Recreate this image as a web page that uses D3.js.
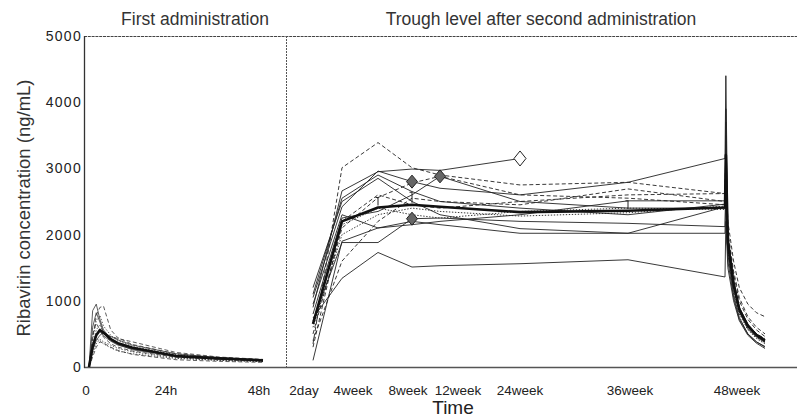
<!DOCTYPE html>
<html><head><meta charset="utf-8">
<script src="https://cdn.jsdelivr.net/npm/d3@7"></script>
<style>
html,body{margin:0;padding:0;background:#fff;}
svg{display:block;font-family:"Liberation Sans",Arial,Helvetica,sans-serif;}
</style></head><body>
<svg id="chart" width="797" height="418"></svg>
<script>
// ---------- data ----------
const yTicks = [0, 1000, 2000, 3000, 4000, 5000];
const panelTitles = ["First administration", "Trough level after second administration"];
const yTitle = "Ribavirin concentration (ng/mL)";
const xTitle = "Time";

// First administration (hours after dose)
const leftHours = [0, 1, 2, 3, 4, 6, 8, 12, 24, 36, 48];
const leftTickHours = [0, 24, 48];
const leftTickLabels = ["0", "24h", "48h"];
const leftValues = [
  [0, 850, 950, 720, 560, 430, 360, 280, 170, 120, 100],
  [0, 420, 780, 900, 920, 560, 440, 340, 200, 140, 110],
  [0, 300, 560, 640, 520, 430, 360, 300, 180, 130, 100],
  [0, 250, 400, 480, 520, 460, 410, 330, 200, 140, 110],
  [0, 500, 660, 560, 450, 350, 300, 240, 150, 110, 90],
  [0, 200, 350, 420, 380, 330, 280, 230, 140, 100, 80],
  [0, 600, 820, 680, 520, 400, 340, 260, 160, 120, 95],
  [0, 150, 300, 380, 360, 300, 250, 190, 110, 85, 70],
  [0, 350, 500, 540, 470, 390, 330, 270, 170, 125, 100],
  [0, 420, 700, 780, 620, 480, 400, 310, 185, 130, 105],
  [0, 300, 480, 520, 500, 460, 430, 380, 220, 150, 115],
  [0, 280, 420, 400, 350, 290, 240, 200, 130, 100, 85]
];
const leftMean = [0, 300, 480, 560, 520, 420, 360, 290, 165, 130, 100];

// Trough levels after second administration (weeks)
const rightWeeks = [0.29, 4, 6, 8, 12, 24, 36, 48];
const rightTickWeeks = [0.29, 4, 8, 12, 24, 36, 48];
const rightTickLabels = ["2day", "4week", "8week", "12week", "24week", "36week", "48week"];
const rightValues = [
  [900, 2660, 2950, 2990, 2970, 3150],
  [350, 3010, 3390, 3010, 2900, 2750, 2790, 2620],
  [1050, 2420, 2960, 2800, 2700, 2600, 2790, 3150],
  [700, 1880, 1880, 2240, 2250, 2200, 2170, 2120],
  [740, 1340, 1730, 1510, 1530, 1560, 1620, 1360],
  [500, 2100, 2560, 2780, 2880, 2600, 2550, 2450],
  [800, 2250, 2350, 2600, 2880, 2500, 2400, 2400],
  [600, 2000, 2300, 2400, 2350, 2280, 2330, 2430],
  [1200, 2500, 2850, 2500, 2300, 2090, 2020, 2420],
  [950, 2300, 2100, 2200, 2150, 2020, 2020, 2020],
  [400, 1600, 2200, 2550, 2500, 2450, 2690, 2500],
  [1100, 2550, 2900, 2650, 2500, 2400, 2300, 2460],
  [650, 2150, 2400, 2300, 2250, 2350, 2400, 2380],
  [100, 1900, 2100, 2150, 2200, 2300, 2510, 2510],
  [300, 2200, 2600, 2450, 2400, 2500, 2600, 2620]
];
const rightMean = [650, 2200, 2410, 2450, 2420, 2340, 2360, 2410];

// After the final dose at 48 weeks (days)
const postDays = [0.3, 1, 3, 5, 8, 11, 14];
const postValues = [
  null,
  [3000, 2200, 1600, 1200, 950, 820, 760],
  [4400, 2000, 1300, 900, 650, 500, 420],
  [2900, 1700, 1100, 750, 500, 380, 300],
  [2200, 1500, 1000, 700, 480, 360, 280],
  [3100, 1900, 1250, 880, 640, 500, 430],
  [3500, 1950, 1300, 900, 620, 480, 400],
  [2800, 1800, 1200, 850, 600, 470, 390],
  [3700, 1850, 1250, 870, 610, 470, 380],
  [2600, 1600, 1050, 720, 500, 380, 310],
  [3200, 2000, 1400, 1000, 720, 560, 460],
  [3900, 1900, 1280, 880, 620, 480, 400],
  [2700, 1750, 1150, 800, 560, 430, 350],
  [3000, 1850, 1200, 830, 580, 450, 370],
  [3300, 2050, 1450, 1050, 760, 600, 500]
];
const postMean = [3200, 1880, 1250, 870, 620, 480, 400];

const filledMarkerWeeks = [8, 8, 12];
const filledMarkerValues = [2800, 2240, 2880];
const openMarkerWeeks = [24];
const openMarkerValues = [3150];
const sdWeeks = [6, 8, 36];
const sdUpper = [2560, 2640, 2510];

// ---------- styles / layout ----------
const leftStyle = ["s", "d", "o", "s", "d", "o", "s", "d", "s", "o", "d", "o"];
const rightStyle = ["s", "d", "s", "s", "s", "d", "s", "o", "s", "s", "d", "s", "o", "s", "d"];
const dashFor = {s: null, d: "4,2.5", o: "1.4,1.6"};
const leftTickNudge = [-3, -10, -4];
const rightTickNudge = [-9, 11, -4, 18, 0, 2, 12];

const svg = d3.select("#chart");
const y = d3.scaleLinear().domain([0, 5000]).range([367, 36]);
const xL = d3.scaleLinear().domain([0, 48]).range([89, 263]);
const xR = d3.scaleLinear().domain(rightWeeks).range([313, 342, 378, 412, 440, 520, 628, 725]);
const xP = d3.scaleLinear().domain([0, 14]).range([725, 765]);

// frame
svg.append("line").attr("x1", 84).attr("x2", 797).attr("y1", 36.5).attr("y2", 36.5)
  .attr("stroke", "#444").attr("stroke-width", 1).attr("stroke-dasharray", "3,0.8");
svg.append("line").attr("x1", 286.5).attr("x2", 286.5).attr("y1", 36).attr("y2", 367)
  .attr("stroke", "#555").attr("stroke-width", 1).attr("stroke-dasharray", "2,1");
svg.append("line").attr("x1", 84).attr("x2", 797).attr("y1", 367.5).attr("y2", 367.5)
  .attr("stroke", "#555").attr("stroke-width", 1.6);
svg.append("line").attr("x1", 84.5).attr("x2", 84.5).attr("y1", 36).attr("y2", 368)
  .attr("stroke", "#333").attr("stroke-width", 1.3);

// y axis labels
const yAxis = d3.axisLeft(y).tickValues(yTicks).tickSize(0).tickPadding(2).tickFormat(d3.format("d"));
const gy = svg.append("g").attr("transform", "translate(84,0)").call(yAxis);
gy.select(".domain").remove();
gy.selectAll("text").attr("font-size", 14).attr("letter-spacing", 1.3).attr("fill", "#222")
  .attr("font-family", "Liberation Sans, Arial, sans-serif");

// x tick labels
svg.append("g").selectAll("text").data(leftTickHours).join("text")
  .attr("x", (d, i) => xL(d) + leftTickNudge[i]).attr("y", 395)
  .attr("text-anchor", "middle").attr("font-size", 13.5).attr("fill", "#222")
  .text((d, i) => leftTickLabels[i]);
svg.append("g").selectAll("text").data(rightTickWeeks).join("text")
  .attr("x", (d, i) => xR(d) + rightTickNudge[i]).attr("y", 395)
  .attr("text-anchor", "middle").attr("font-size", 13.5).attr("fill", "#222")
  .text((d, i) => rightTickLabels[i]);

// titles
svg.append("text").attr("x", 195).attr("y", 25).attr("text-anchor", "middle")
  .attr("font-size", 17.5).attr("fill", "#333").text(panelTitles[0]);
svg.append("text").attr("x", 541).attr("y", 25).attr("text-anchor", "middle")
  .attr("font-size", 17.5).attr("fill", "#333").text(panelTitles[1]);
svg.append("text").attr("x", 453).attr("y", 414).attr("text-anchor", "middle")
  .attr("font-size", 19).attr("fill", "#222").text(xTitle);
svg.append("text").attr("transform", "translate(30,208) rotate(-90)").attr("text-anchor", "middle")
  .attr("font-size", 18.5).attr("fill", "#333").text(yTitle);

// left panel lines
const lineL = d3.line().x((d, i) => xL(leftHours[i])).y(d => y(d));
const gL = svg.append("g").attr("fill", "none");
leftValues.forEach((vals, k) => {
  gL.append("path").attr("d", lineL(vals))
    .attr("stroke", "#333").attr("stroke-width", 0.8)
    .attr("stroke-dasharray", dashFor[leftStyle[k]]);
});
gL.append("path").attr("d", lineL(leftMean)).attr("stroke", "#111").attr("stroke-width", 2.6)
  .attr("stroke-linejoin", "round");

// right panel lines
const lineXY = d3.line().x(d => d[0]).y(d => d[1]);
function rightPts(vals, post) {
  const pts = vals.map((v, i) => [xR(rightWeeks[i]), y(v)]);
  if (post) post.forEach((v, i) => pts.push([xP(postDays[i]), y(v)]));
  return pts;
}
const gR = svg.append("g").attr("fill", "none");
rightValues.forEach((vals, k) => {
  gR.append("path").attr("d", lineXY(rightPts(vals, postValues[k])))
    .attr("stroke", "#222").attr("stroke-width", 0.9)
    .attr("stroke-dasharray", dashFor[rightStyle[k]]);
});
gR.append("path").attr("d", lineXY(rightPts(rightMean, postMean)))
  .attr("stroke", "#111").attr("stroke-width", 2.6).attr("stroke-linejoin", "round");

// small SD bars on mean
sdWeeks.forEach((w, i) => {
  const idx = rightWeeks.indexOf(w);
  const x0 = xR(w);
  gR.append("line").attr("x1", x0).attr("x2", x0).attr("y1", y(rightMean[idx]) - 2).attr("y2", y(sdUpper[i]))
    .attr("stroke", "#222").attr("stroke-width", 1);
  gR.append("line").attr("x1", x0 - 2.5).attr("x2", x0 + 0.5).attr("y1", y(sdUpper[i])).attr("y2", y(sdUpper[i]))
    .attr("stroke", "#222").attr("stroke-width", 1);
});

// diamonds
const diamond = (cx, cy, w, h) => `M${cx},${cy - h}L${cx + w},${cy}L${cx},${cy + h}L${cx - w},${cy}Z`;
filledMarkerWeeks.forEach((w, i) => {
  svg.append("path").attr("d", diamond(xR(w), y(filledMarkerValues[i]), 5.5, 6.5))
    .attr("fill", "#666").attr("stroke", "#222").attr("stroke-width", 1);
});
openMarkerWeeks.forEach((w, i) => {
  svg.append("path").attr("d", diamond(xR(w), y(openMarkerValues[i]), 6, 7.5))
    .attr("fill", "#fff").attr("stroke", "#222").attr("stroke-width", 1);
});
</script>
</body></html>
